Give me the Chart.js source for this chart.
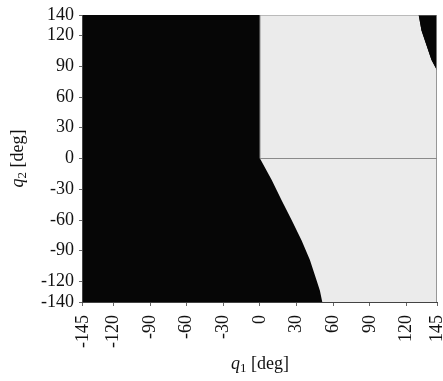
<!DOCTYPE html>
<html>
<head>
<meta charset="utf-8">
<script src="https://cdn.jsdelivr.net/npm/chart.js@4/dist/chart.umd.min.js"></script>
<style>
  html, body { margin: 0; padding: 0; background: #fff; }
  #wrap { width: 443px; height: 381px; }
</style>
</head>
<body>
<div id="wrap"><canvas id="chart"></canvas></div>
<script>
const xTicks = [-145, -120, -90, -60, -30, 0, 30, 60, 90, 120, 145];
const yTicks = [-140, -120, -90, -60, -30, 0, 30, 60, 90, 120, 140];

// lower edge of the reachable area, q1 as q2 goes from 0 down to -140
const lowerQ2 = [0, -21, -41, -60, -80, -99, -119, -129, -140];
const lowerQ1 = [0, 9.6, 17.8, 25.9, 34.1, 40.9, 46.4, 49.1, 51];

// edge of the unreachable corner at the top right
const cornerQ1 = [130, 132.3, 136.4, 140.5, 145];
const cornerQ2 = [140, 125, 110.6, 96, 86];

const serif = '"Times New Roman", "Liberation Serif", serif';

const reachable = [{ x: 0, y: 140 }];
cornerQ1.forEach((q, i) => reachable.push({ x: q, y: cornerQ2[i] }));
reachable.push({ x: 145, y: -140 });
for (let i = lowerQ1.length - 1; i >= 0; i--) reachable.push({ x: lowerQ1[i], y: lowerQ2[i] });
reachable.push({ x: 0, y: 140 });

const corner = cornerQ1.map((q, i) => ({ x: q, y: cornerQ2[i] }));
corner.push({ x: 145, y: 140 });
corner.push({ x: cornerQ1[0], y: cornerQ2[0] });

const outline = [
  { x: 0, y: 0 }, { x: 0, y: 140 }, { x: 145, y: 140 }, { x: 145, y: -140 },
  { x: NaN, y: NaN },
  { x: 0, y: 0 }, { x: 145, y: 0 }
];

const plotBackground = {
  id: 'plotBackground',
  beforeDatasetsDraw(chart) {
    const { ctx, chartArea: a } = chart;
    ctx.save();
    ctx.fillStyle = '#060606';
    ctx.fillRect(a.left, a.top, a.right - a.left, a.bottom - a.top);
    ctx.restore();
  }
};

function drawTitle(ctx, x, y, sub) {
  ctx.font = 'italic 18px ' + serif;
  const w1 = ctx.measureText('q').width;
  ctx.font = '13px ' + serif;
  const w2 = ctx.measureText(sub).width;
  ctx.font = '18px ' + serif;
  const w3 = ctx.measureText(' [deg]').width;
  let cx = x - (w1 + w2 + w3) / 2;
  ctx.textBaseline = 'alphabetic';
  ctx.textAlign = 'left';
  ctx.font = 'italic 18px ' + serif;
  ctx.fillText('q', cx, y);
  cx += w1;
  ctx.font = '13px ' + serif;
  ctx.fillText(sub, cx, y + 3);
  cx += w2;
  ctx.font = '18px ' + serif;
  ctx.fillText(' [deg]', cx, y);
}

const axisTitles = {
  id: 'axisTitles',
  afterDraw(chart) {
    const { ctx, chartArea: a } = chart;
    ctx.save();
    ctx.fillStyle = '#111';
    drawTitle(ctx, (a.left + a.right) / 2, 369, '1');
    ctx.translate(23, (a.top + a.bottom) / 2);
    ctx.rotate(-Math.PI / 2);
    drawTitle(ctx, 0, 0, '2');
    ctx.restore();
  }
};

new Chart(document.getElementById('chart'), {
  type: 'scatter',
  data: {
    datasets: [
      {
        data: reachable,
        order: 3,
        showLine: true,
        fill: 'shape',
        backgroundColor: '#ebebeb',
        borderWidth: 0,
        borderColor: 'rgba(0,0,0,0)',
        pointRadius: 0
      },
      {
        data: corner,
        order: 2,
        showLine: true,
        fill: 'shape',
        backgroundColor: '#060606',
        borderWidth: 0,
        borderColor: 'rgba(0,0,0,0)',
        pointRadius: 0
      },
      {
        data: outline,
        order: 1,
        showLine: true,
        spanGaps: false,
        fill: false,
        borderColor: '#8a8a8a',
        borderWidth: 1,
        pointRadius: 0
      }
    ]
  },
  options: {
    responsive: true,
    maintainAspectRatio: false,
    animation: false,
    layout: { padding: { left: 36, right: 6, top: 15, bottom: 24 } },
    plugins: {
      legend: { display: false },
      tooltip: { enabled: false }
    },
    scales: {
      x: {
        type: 'linear',
        min: -145,
        max: 145,
        afterBuildTicks: axis => { axis.ticks = xTicks.map(v => ({ value: v })); },
        afterFit: axis => { axis.paddingRight = 0; },
        ticks: {
          minRotation: 90,
          maxRotation: 90,
          padding: 9,
          color: '#111',
          font: { family: serif, size: 18 }
        },
        grid: { drawOnChartArea: false, tickLength: 4, color: '#666' },
        border: { color: '#444' }
      },
      y: {
        type: 'linear',
        min: -140,
        max: 140,
        afterBuildTicks: axis => { axis.ticks = yTicks.map(v => ({ value: v })); },
        afterFit: axis => { axis.paddingTop = 0; },
        ticks: {
          padding: 5,
          color: '#111',
          font: { family: serif, size: 18 }
        },
        grid: { drawOnChartArea: false, tickLength: 4, color: '#666' },
        border: { color: '#444' }
      }
    }
  },
  plugins: [plotBackground, axisTitles]
});
</script>
</body>
</html>
